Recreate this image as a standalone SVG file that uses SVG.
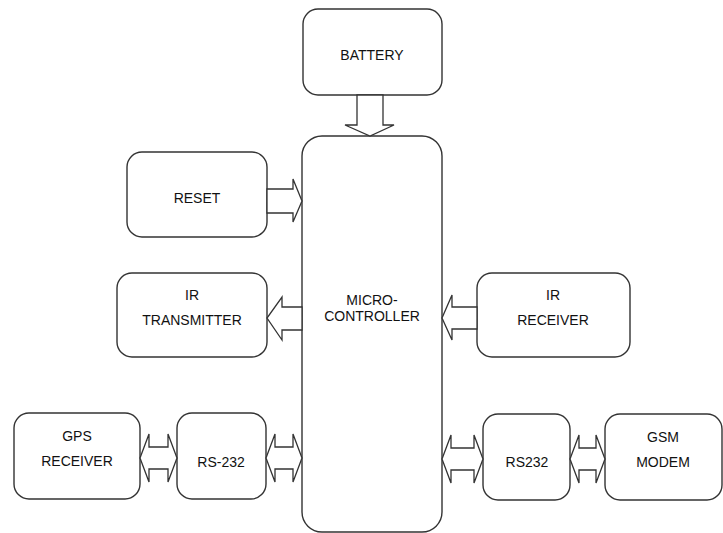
<svg xmlns="http://www.w3.org/2000/svg" width="723" height="533" viewBox="0 0 723 533">
<style>
.box{fill:#fff;stroke:#333;stroke-width:1.4}
.arr{fill:#fff;stroke:#333;stroke-width:1.3;stroke-linejoin:miter}
text{font-family:"Liberation Sans",Arial,sans-serif;font-size:14px;fill:#111;text-anchor:middle}
</style>
<rect width="723" height="533" fill="#fff"/>
<g id="battery"><rect class="box" x="303" y="9" width="139" height="86" rx="15"/><text x="372" y="60">BATTERY</text></g>
<g id="microcontroller"><rect class="box" x="302" y="136" width="140" height="396" rx="20"/><text x="372" y="305">MICRO-</text><text x="372" y="321">CONTROLLER</text></g>
<g id="reset"><rect class="box" x="127" y="152" width="140" height="85" rx="15"/><text x="197" y="203">RESET</text></g>
<g id="ir-transmitter"><rect class="box" x="117" y="273" width="150" height="84" rx="15"/><text x="192" y="300">IR</text><text x="192" y="325">TRANSMITTER</text></g>
<g id="ir-receiver"><rect class="box" x="477" y="273" width="153" height="84" rx="15"/><text x="553" y="300">IR</text><text x="553" y="325">RECEIVER</text></g>
<g id="gps-receiver"><rect class="box" x="14" y="413" width="126" height="86" rx="15"/><text x="77" y="441">GPS</text><text x="77" y="466">RECEIVER</text></g>
<g id="rs-232"><rect class="box" x="177" y="413" width="89" height="86" rx="15"/><text x="221" y="467">RS-232</text></g>
<g id="rs232"><rect class="box" x="483" y="414" width="87" height="86" rx="15"/><text x="527" y="467">RS232</text></g>
<g id="gsm-modem"><rect class="box" x="605" y="414" width="117" height="86" rx="15"/><text x="663" y="442">GSM</text><text x="663" y="467">MODEM</text></g>
<g id="connectors">
<polygon class="arr" points="357,95 383,95 383,125 394,125 370,136 345,125 357,125"/>
<polygon class="arr" points="267,189 293,189 293,179 302,201 293,222 293,213 267,213"/>
<polygon class="arr" points="302,307 282,307 282,297 267,318 282,340 282,330 302,330"/>
<polygon class="arr" points="477,307 452,307 452,295 442,318 452,340 452,329 477,329"/>
<polygon class="arr" points="140,458 149,434 149,447 168,447 168,434 177,458 168,482 168,469 149,469 149,482"/>
<polygon class="arr" points="266,458 275,434 275,447 293,447 293,434 302,458 293,482 293,469 275,469 275,482"/>
<polygon class="arr" points="442,459 451,435 451,448 474,448 474,435 483,459 474,483 474,470 451,470 451,483"/>
<polygon class="arr" points="570,459 579,435 579,448 596,448 596,435 605,459 596,483 596,470 579,470 579,483"/>
</g>
</svg>
